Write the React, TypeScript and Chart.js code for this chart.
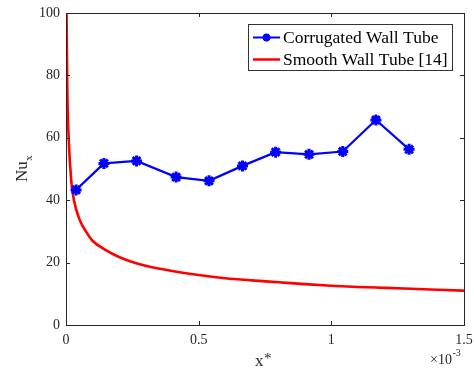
import React, { useEffect, useRef } from "react";
import { Chart, registerables } from "chart.js";

Chart.register(...registerables);

// x values in units of 1e-3
const corrugatedX = [0.038, 0.143, 0.266, 0.415, 0.539, 0.665, 0.79, 0.916, 1.043, 1.168, 1.293];
const corrugatedY = [43.3, 51.8, 52.6, 47.4, 46.2, 51.0, 55.4, 54.7, 55.6, 65.7, 56.3];

const smoothX = [0.002, 0.005, 0.01, 0.02, 0.03, 0.05, 0.075, 0.1, 0.15, 0.2, 0.25, 0.3, 0.4, 0.5, 0.6, 0.7, 0.8, 0.9, 1.0, 1.1, 1.2, 1.3, 1.4, 1.5];
const smoothY = [100, 75, 60, 46, 40, 34, 30, 27, 24, 21.8, 20.2, 19, 17.3, 16, 15, 14.3, 13.7, 13.1, 12.6, 12.2, 11.9, 11.6, 11.3, 11.0];

const xTickValues = [0, 0.5, 1, 1.5];
const yTickValues = [0, 20, 40, 60, 80, 100];
const seriesLabels = ["Corrugated Wall Tube", "Smooth Wall Tube [14]"];
const xTitle = "x";
const yTitle = "Nu";
const ySub = "x";
const expBase = "\u00d710";
const expPow = "-3";

const FONT = "'Liberation Serif', 'Times New Roman', serif";
const AX = "#262626";
const BLUE = "#0000ff";
const RED = "#ff0000";

function drawStar(ctx: CanvasRenderingContext2D, x: number, y: number, r: number) {
  ctx.beginPath();
  for (let k = 0; k < 4; k++) {
    const a = (k * Math.PI) / 4;
    ctx.moveTo(x - r * Math.cos(a), y - r * Math.sin(a));
    ctx.lineTo(x + r * Math.cos(a), y + r * Math.sin(a));
  }
  ctx.stroke();
}

const decorPlugin = {
  id: "decor",
  afterDraw(chart: any) {
    const ctx: CanvasRenderingContext2D = chart.ctx;
    const a = chart.chartArea;
    const xs = chart.scales.x;
    const ys = chart.scales.y;
    ctx.save();
    // box
    ctx.strokeStyle = AX;
    ctx.lineWidth = 1;
    ctx.strokeRect(Math.round(a.left) + 0.5, Math.round(a.top) + 0.5, Math.round(a.right - a.left), Math.round(a.bottom - a.top));
    // inward ticks
    const tl = 4;
    ctx.beginPath();
    xTickValues.forEach((v) => {
      const px = Math.round(xs.getPixelForValue(v)) + 0.5;
      ctx.moveTo(px, a.bottom);
      ctx.lineTo(px, a.bottom - tl);
      ctx.moveTo(px, a.top);
      ctx.lineTo(px, a.top + tl);
    });
    yTickValues.forEach((v) => {
      const py = Math.round(ys.getPixelForValue(v)) + 0.5;
      ctx.moveTo(a.left, py);
      ctx.lineTo(a.left + tl, py);
      ctx.moveTo(a.right, py);
      ctx.lineTo(a.right - tl, py);
    });
    ctx.stroke();

    // axis titles
    ctx.fillStyle = AX;
    ctx.textBaseline = "alphabetic";
    ctx.font = `17px ${FONT}`;
    const cx = (a.left + a.right) / 2;
    const wx = ctx.measureText(xTitle).width;
    ctx.textAlign = "left";
    ctx.fillText(xTitle, cx - 10, 366);
    ctx.font = `15px ${FONT}`;
    ctx.fillText("*", cx - 10 + wx + 0.5, 363);

    ctx.save();
    ctx.translate(27, 182);
    ctx.rotate(-Math.PI / 2);
    ctx.font = `17px ${FONT}`;
    ctx.textAlign = "left";
    ctx.fillText(yTitle, 0, 0);
    const wn = ctx.measureText(yTitle).width;
    ctx.font = `11px ${FONT}`;
    ctx.fillText(ySub, wn + 0.5, 5);
    ctx.restore();

    // exponent
    ctx.font = `14px ${FONT}`;
    ctx.textAlign = "left";
    ctx.fillText(expBase, 430, 364);
    const wb = ctx.measureText(expBase).width;
    ctx.font = `10px ${FONT}`;
    ctx.fillText(expPow, 430 + wb + 0.5, 356);

    // legend
    const lx = 248.5, ly = 24.5, lw = 204, lh = 46;
    ctx.fillStyle = "#ffffff";
    ctx.fillRect(lx, ly, lw, lh);
    ctx.strokeStyle = "#333333";
    ctx.lineWidth = 1;
    ctx.strokeRect(lx, ly, lw, lh);
    const rows = [37.5, 59.5];
    // blue entry
    ctx.strokeStyle = BLUE;
    ctx.lineWidth = 2;
    ctx.beginPath();
    ctx.moveTo(253, rows[0]);
    ctx.lineTo(280, rows[0]);
    ctx.stroke();
    ctx.lineWidth = 2.5;
    drawStar(ctx, 266.5, rows[0], 4);
    // red entry
    ctx.strokeStyle = RED;
    ctx.lineWidth = 2.5;
    ctx.beginPath();
    ctx.moveTo(253, rows[1]);
    ctx.lineTo(280, rows[1]);
    ctx.stroke();
    ctx.fillStyle = "#000000";
    ctx.font = `17.5px ${FONT}`;
    ctx.textBaseline = "middle";
    ctx.fillText(seriesLabels[0], 283, rows[0] + 1);
    ctx.fillText(seriesLabels[1], 283, rows[1] + 1);
    ctx.restore();
  },
};

export default function App() {
  const ref = useRef<HTMLCanvasElement | null>(null);
  useEffect(() => {
    if (!ref.current) return;
    const chart = new Chart(ref.current, {
      type: "line",
      data: {
        datasets: [
          {
            label: seriesLabels[0],
            data: corrugatedX.map((x, i) => ({ x, y: corrugatedY[i] })),
            borderColor: BLUE,
            backgroundColor: BLUE,
            borderWidth: 2.2,
            pointStyle: "star",
            pointRadius: 5.5,
            pointBorderWidth: 3,
            pointBorderColor: BLUE,
            pointBackgroundColor: BLUE,
            tension: 0,
          },
          {
            label: seriesLabels[1],
            data: smoothX.map((x, i) => ({ x, y: smoothY[i] })),
            borderColor: RED,
            borderWidth: 2.6,
            pointRadius: 0,
            cubicInterpolationMode: "monotone",
          },
        ],
      },
      options: {
        animation: false,
        responsive: false,
        layout: { padding: { left: 0, top: 13, right: 10, bottom: 0 } },
        plugins: { legend: { display: false }, tooltip: { enabled: false } },
        scales: {
          x: {
            type: "linear",
            min: 0,
            max: 1.5,
            afterFit: (s: any) => { s.height = 45; s.paddingLeft = 0; s.paddingRight = 0; },
            afterBuildTicks: (s: any) => { s.ticks = xTickValues.map((v) => ({ value: v })); },
            grid: { display: false, drawTicks: false },
            border: { display: false },
            ticks: {
              padding: 7,
              color: AX,
              font: { family: FONT, size: 14 },
              maxRotation: 0,
              callback: (v: any) => String(v),
            },
          },
          y: {
            type: "linear",
            min: 0,
            max: 100,
            afterFit: (s: any) => { s.width = 66; s.paddingTop = 0; s.paddingBottom = 0; },
            afterBuildTicks: (s: any) => { s.ticks = yTickValues.map((v) => ({ value: v })); },
            grid: { display: false, drawTicks: false },
            border: { display: false },
            ticks: {
              padding: 6,
              color: AX,
              font: { family: FONT, size: 14 },
              callback: (v: any) => String(v),
            },
          },
        },
      },
      plugins: [decorPlugin],
    } as any);
    return () => chart.destroy();
  }, []);
  return (
    <div style={{ position: "absolute", left: 0, top: 0, width: 474, height: 370, background: "#fff" }}>
      <canvas ref={ref} width={474} height={370} style={{ display: "block" }} />
    </div>
  );
}
